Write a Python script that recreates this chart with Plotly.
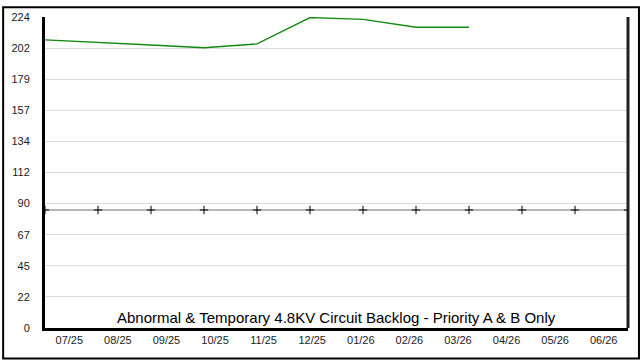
import plotly.graph_objects as go

months = ["07/25", "08/25", "09/25", "10/25", "11/25", "12/25",
          "01/26", "02/26", "03/26", "04/26", "05/26", "06/26"]
backlog = [207.5, 205.8, 203.8, 201.8, 204.6, 223.6, 222.3, 216.6, 216.6]
target = [85] * 12
ytick_vals = [0, 22.4, 44.8, 67.2, 89.6, 112, 134.4, 156.8, 179.2, 201.6, 224]
ytick_text = ["0", "22", "45", "67", "90", "112", "134", "157", "179", "202", "224"]
title = "Abnormal & Temporary 4.8KV Circuit Backlog - Priority A & B Only"

n = len(months)
xs = list(range(n))
label_pos = [(i + 0.5) * (n - 1) / n for i in range(n)]

L, R, T, B = 43, 12, 11, 32
W, H = 640, 360
pw, ph = W - L - R, H - T - B

fig = go.Figure()
fig.add_trace(go.Scatter(x=xs, y=target, mode="lines+markers",
                         line=dict(color="#707070", width=1.2),
                         marker=dict(symbol="cross-thin", size=6,
                                     line=dict(color="black", width=1)),
                         hoverinfo="skip"))
fig.add_trace(go.Scatter(x=xs[:len(backlog)], y=backlog, mode="lines",
                         line=dict(color="#128a12", width=1.4),
                         hoverinfo="skip"))

fig.update_layout(
    width=W, height=H,
    margin=dict(l=L, r=R, t=T, b=B),
    paper_bgcolor="white", plot_bgcolor="white",
    showlegend=False,
    font=dict(family="Liberation Sans, Arial, sans-serif", size=11, color="black"),
    xaxis=dict(range=[0, n - 1], tickmode="array", tickvals=label_pos,
               ticktext=months, showgrid=False, zeroline=False,
               showline=True, linecolor="black", linewidth=3,
               ticks="", tickfont=dict(size=11, color="#1a1a1a")),
    yaxis=dict(range=[0, 224], tickmode="array", tickvals=ytick_vals,
               ticktext=ytick_text, showgrid=True, gridcolor="#dcdcdc",
               gridwidth=1, zeroline=False, showline=True, linecolor="black",
               linewidth=3, ticks="", ticklabelstandoff=10,
               tickfont=dict(size=11, color="#1a1a1a")),
    annotations=[dict(text=title, xref="paper", yref="paper", x=0.5, y=0,
                      xanchor="center", yanchor="bottom", showarrow=False,
                      yshift=1, borderpad=0,
                      font=dict(size=15, color="black"))],
    shapes=[
        dict(type="line", xref="paper", yref="paper", x0=1, x1=1, y0=0, y1=1,
             line=dict(color="#202020", width=3)),
        dict(type="rect", xref="paper", yref="paper",
             x0=-(L - 1) / pw, x1=(W - L - 1) / pw,
             y0=-(B - 1) / ph, y1=(H - B - 1) / ph,
             line=dict(color="black", width=2), layer="above"),
    ],
)

fig.write_html("out.html",
               config={"displayModeBar": False, "staticPlot": True},
               post_script="document.body.style.margin='0';"
                           "document.body.style.overflow='hidden';")
